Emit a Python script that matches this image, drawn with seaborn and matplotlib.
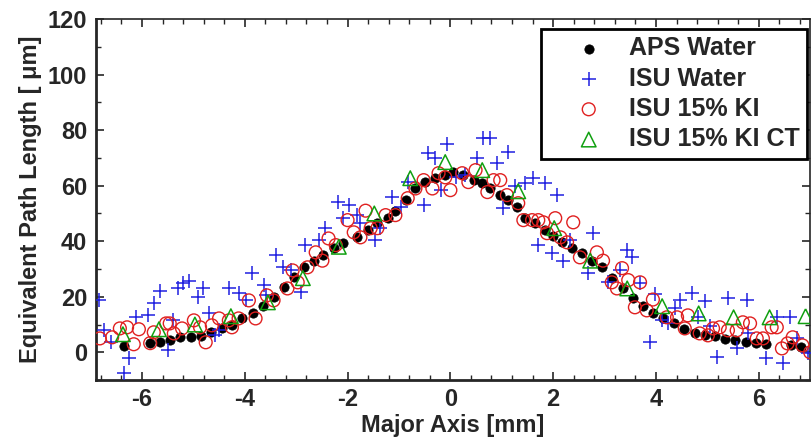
import numpy as np
import pandas as pd
import seaborn as sns
import matplotlib.pyplot as plt
from matplotlib.ticker import MultipleLocator

# APS Water (black dots)
aps_x = [-6.35, -5.84, -5.65, -5.45, -5.26, -5.05, -4.85, -4.66, -4.45, -4.25, -4.06, -3.84,
         -3.65, -3.44, -3.24, -3.05, -2.85, -2.66, -2.47, -2.27, -2.08, -1.81, -1.61, -1.42,
         -1.22, -1.07, -0.87, -0.68, -0.49, -0.29, -0.10, 0.06, 0.25, 0.45, 0.62, 0.78,
         0.97, 1.13, 1.30, 1.46, 1.65, 1.84, 2.00, 2.17, 2.37, 2.56, 2.76, 2.95, 3.15,
         3.35, 3.55, 3.75, 3.95, 4.14, 4.35, 4.54, 4.76, 4.95, 5.15, 5.34, 5.53, 5.75,
         5.94, 6.15, 6.62, 6.82]
aps_y = [2.2, 3.3, 3.6, 4.3, 5.4, 5.4, 5.8, 7.2, 8.6, 10.0, 12.2, 14.0,
         16.6, 20.0, 23.4, 27.0, 30.6, 33.0, 35.0, 37.5, 39.3, 41.4, 44.0, 46.5,
         48.3, 51.0, 54.8, 59.0, 61.3, 62.7, 63.8, 64.9, 63.8, 62.0, 61.0, 59.0,
         56.6, 54.8, 52.3, 48.3, 46.5, 44.0, 42.0, 39.6, 37.5, 35.7, 33.0, 30.6, 26.7,
         23.0, 19.5, 16.6, 14.0, 12.2, 10.4, 8.3, 6.8, 6.1, 5.8, 4.7, 4.3, 3.6,
         3.2, 2.9, 2.5, 2.0]

# ISU Water (blue pluses)
isu_x = [-6.83, -6.74, -6.60, -6.35, -6.25, -6.12, -5.88, -5.77, -5.65, -5.50, -5.40, -5.30,
         -5.20, -5.09, -4.91, -4.82, -4.70, -4.58, -4.50, -4.31, -4.12, -3.98, -3.85, -3.63,
         -3.59, -3.40, -3.26, -3.10, -2.91, -2.82, -2.56, -2.43, -2.19, -2.08, -1.98, -1.81,
         -1.75, -1.46, -1.36, -1.13, -0.97, -0.82, -0.52, -0.43, -0.29, -0.19, -0.06, 0.10,
         0.29, 0.52, 0.64, 0.78, 0.91, 1.03, 1.13, 1.26, 1.46, 1.61, 1.71, 1.84, 1.98,
         2.08, 2.19, 2.33, 2.68, 2.78, 3.07, 3.30, 3.44, 3.53, 3.69, 3.88, 3.98, 4.12,
         4.23, 4.37, 4.47, 4.70, 4.82, 4.95, 5.05, 5.18, 5.40, 5.57, 5.77, 5.79, 6.15,
         6.35, 6.47, 6.60, 6.74, 6.95]
isu_y = [19.0, 8.0, 3.6, -7.6, -2.2, 12.6, 13.3, 17.7, 22.0, 0.7, 11.5, 23.0,
         24.9, 25.6, 19.8, 23.0, 14.0, 6.1, 8.0, 23.0, 21.3, 19.0, 28.5, 24.1,
         20.5, 35.0, 30.6, 29.5, 21.6, 38.6, 40.4, 44.7, 54.0, 48.3, 53.0, 49.4,
         46.5, 40.4, 44.7, 55.9, 52.3, 61.3, 53.0, 71.7, 70.0, 58.4, 75.0, 63.0,
         63.8, 70.0, 77.0, 77.0, 68.0, 51.9, 72.0, 60.0, 61.0, 62.7, 38.6, 61.0, 35.7,
         56.6, 33.0, 40.4, 28.5, 43.0, 25.2, 29.5, 36.8, 34.2, 25.0, 3.6, 21.0, 11.5,
         10.4, 15.8, 18.7, 21.3, 12.6, 18.4, 9.4, -1.8, 19.5, 1.4, 19.0, 6.8, -2.2,
         12.6, -4.0, 12.6, 5.0, -0.4]

# ISU 15% KI (red circles)
ki_x = [-6.82, -6.58, -6.43, -6.29, -6.16, -6.06, -5.84, -5.77, -5.53, -5.46, -5.38, -5.22,
        -4.99, -4.87, -4.76, -4.64, -4.50, -4.31, -4.25, -4.12, -3.92, -3.79, -3.57, -3.44,
        -3.17, -3.07, -2.97, -2.78, -2.62, -2.49, -2.37, -2.23, -2.00, -1.88, -1.75, -1.65,
        -1.55, -1.42, -1.26, -1.07, -0.83, -0.68, -0.52, -0.35, -0.23, -0.10, 0.00, 0.23,
        0.35, 0.49, 0.72, 0.84, 0.97, 1.10, 1.32, 1.42, 1.59, 1.71, 1.81, 1.88, 2.04,
        2.14, 2.27, 2.39, 2.52, 2.85, 2.97, 3.14, 3.24, 3.34, 3.46, 3.59, 3.69, 3.82,
        3.94, 4.21, 4.41, 4.56, 4.62, 4.85, 5.01, 5.11, 5.24, 5.40, 5.57, 5.69, 5.83,
        5.96, 6.08, 6.25, 6.35, 6.45, 6.56, 6.66, 6.85, 7.00]
ki_y = [5.0, 5.4, 8.6, 9.0, 2.9, 8.3, 3.3, 7.2, 10.4, 10.4, 6.8, 8.6,
        11.5, 9.0, 3.6, 9.7, 12.2, 11.5, 9.0, 12.2, 18.7, 12.2, 20.5, 18.7,
        23.0, 29.5, 25.2, 30.6, 36.0, 33.0, 41.0, 38.6, 47.6, 43.2, 41.4, 51.0,
        44.7, 44.7, 49.4, 49.4, 55.5, 59.0, 62.0, 59.0, 64.5, 63.0, 58.4, 64.5,
        61.3, 65.6, 57.7, 62.0, 62.0, 56.6, 53.7, 47.6, 47.6, 47.6, 46.8, 42.9, 48.3,
        41.4, 39.6, 46.8, 34.2, 36.0, 33.0, 25.2, 23.0, 30.3, 26.0, 16.2, 25.2, 15.1,
        19.0, 12.6, 12.6, 8.6, 13.3, 6.8, 6.1, 8.6, 9.0, 7.9, 7.9, 10.8, 10.4,
        5.0, 5.0, 9.0, 9.0, 1.4, 3.2, 5.4, 2.5, 0.0]

# ISU 15% KI CT (green triangles)
ct_x = [-6.37, -5.67, -4.97, -4.27, -3.55, -2.87, -2.17, -1.48, -0.78, -0.10,
        0.62, 1.32, 2.02, 2.72, 3.44, 4.12, 4.83, 5.51, 6.21, 6.91]
ct_y = [6.5, 8.3, 10.0, 13.0, 18.0, 26.7, 38.0, 50.0, 62.7, 68.5,
        65.6, 58.0, 44.7, 33.0, 23.0, 16.6, 14.0, 12.6, 12.6, 13.0]

sns.set_style("ticks")
plt.rcParams['font.family'] = ['Liberation Sans', 'DejaVu Sans']
plt.rcParams['font.weight'] = 'bold'
plt.rcParams['axes.labelweight'] = 'bold'
plt.rcParams['axes.unicode_minus'] = False

fig = plt.figure(figsize=(8.11, 4.44), dpi=100)
ax = fig.add_axes([0.118, 0.144, 0.881, 0.813])

sns.scatterplot(x=aps_x, y=aps_y, ax=ax, marker='o', s=45, color='black',
                edgecolor='black', linewidth=0.5, label='APS Water', zorder=2)
sns.scatterplot(x=isu_x, y=isu_y, ax=ax, marker='+', s=90, color='#2020e0',
                linewidth=1.1, label='ISU Water', zorder=3)
sns.scatterplot(x=ki_x, y=ki_y, ax=ax, marker='o', s=85, facecolor='none',
                edgecolor='#e02020', linewidth=1.0, label='ISU 15% KI', zorder=4)
sns.scatterplot(x=ct_x, y=ct_y, ax=ax, marker='^', s=110, facecolor='none',
                edgecolor='#10a010', linewidth=1.1, label='ISU 15% KI CT', zorder=5)

ax.set_xlim(-6.9, 7.0)
ax.set_ylim(-10, 120)
ax.xaxis.set_major_locator(MultipleLocator(2))
ax.xaxis.set_minor_locator(MultipleLocator(0.4))
ax.yaxis.set_major_locator(MultipleLocator(20))
ax.yaxis.set_minor_locator(MultipleLocator(10))
ax.tick_params(which='both', direction='in', top=True, right=True)
ax.tick_params(which='major', length=6, width=1.2, labelsize=17, pad=6)
ax.tick_params(which='minor', length=3.5, width=1.0)
for lab in ax.get_xticklabels() + ax.get_yticklabels():
    lab.set_fontweight('bold')
for side in ['left', 'bottom']:
    ax.spines[side].set_linewidth(2)
for side in ['top', 'right']:
    ax.spines[side].set_linewidth(1.2)

ax.set_xlabel('Major Axis [mm]', fontsize=17, fontweight='bold', labelpad=2)
ax.set_ylabel('Equivalent Path Length [ \u03bcm]', fontsize=17, fontweight='bold', labelpad=4)

leg = ax.legend(loc='upper right', bbox_to_anchor=(0.9955, 0.973), borderaxespad=0,
                fontsize=18, frameon=True, fancybox=False, edgecolor='black', framealpha=1,
                labelspacing=0.25, handletextpad=0.0, borderpad=0.3, handlelength=3.2)
leg.get_frame().set_linewidth(2)
for t in leg.get_texts():
    t.set_fontweight('bold')

fig.savefig('out.png', dpi=100)
